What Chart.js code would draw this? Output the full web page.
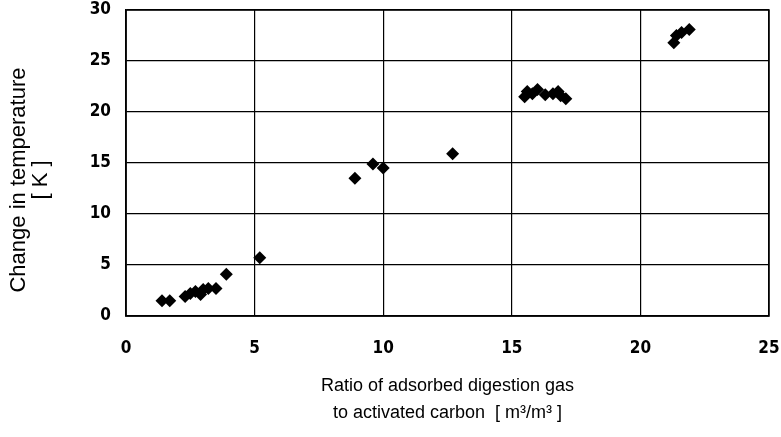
<!DOCTYPE html>
<html>
<head>
<meta charset="utf-8">
<script src="https://cdn.jsdelivr.net/npm/chart.js@4/dist/chart.umd.min.js"></script>
<style>
  html, body { margin: 0; padding: 0; background: #fff; }
  #wrap { width: 781px; height: 437px; }
</style>
</head>
<body>
<div id="wrap"><canvas id="c" width="781" height="437"></canvas></div>
<script>
// Ratio of adsorbed digestion gas to activated carbon [m3/m3]
const ratio = [
  1.4, 1.7, 2.3, 2.5, 2.7, 2.9, 3.0, 3.2, 3.5, 3.9,
  5.2,
  8.9, 9.6, 10.0,
  12.7,
  15.5, 15.6, 15.8, 16.0, 16.3, 16.6, 16.8, 16.9, 17.1,
  21.3, 21.4, 21.6, 21.9
];
// Change in temperature [K]
const deltaT = [
  1.5, 1.5, 1.9, 2.2, 2.4, 2.1, 2.6, 2.7, 2.7, 4.1,
  5.7,
  13.5, 14.9, 14.5,
  15.9,
  21.5, 22.0, 21.8, 22.2, 21.7, 21.8, 22.0, 21.6, 21.3,
  26.8, 27.5, 27.8, 28.1
];
const xTicks = [0, 5, 10, 15, 20, 25];
const yTicks = [0, 5, 10, 15, 20, 25, 30];
const xTitle = ['Ratio of adsorbed digestion gas', 'to activated carbon  [ m\u00b3/m\u00b3 ]'];
const yTitle = ['Change in temperature', '[ K ]'];

const points = ratio.map((x, i) => ({ x: x, y: deltaT[i] }));
const tickFont = { family: "'DejaVu Sans Condensed', 'Liberation Sans Narrow', sans-serif", size: 17, weight: 'bold' };
const titleFont = { family: "'Liberation Sans', sans-serif", size: 18, lineHeight: 1.5 };

new Chart(document.getElementById('c'), {
  type: 'scatter',
  data: {
    datasets: [{
      data: points,
      pointStyle: 'rectRot',
      pointRadius: 6.5,
      backgroundColor: '#000',
      borderColor: '#000',
      borderWidth: 0
    }]
  },
  options: {
    responsive: false,
    animation: false,
    layout: { padding: { top: 0, right: 0, left: 0, bottom: 6 } },
    plugins: { legend: { display: false }, tooltip: { enabled: false } },
    scales: {
      x: {
        type: 'linear', min: 0, max: 25,
        afterBuildTicks: s => { s.ticks = xTicks.map(v => ({ value: v })); },
        grid: { color: '#000', lineWidth: 1.2, drawTicks: false },
        border: { color: '#000', width: 1.5 },
        ticks: { color: '#000', font: tickFont, padding: 22, maxRotation: 0 },
        title: {
          display: true,
          text: xTitle,
          color: '#000', font: titleFont, padding: { top: 14 }
        },
        afterFit: s => { s.height = 437 - 316 - 6; s.paddingLeft = 0; s.paddingRight = 12; }
      },
      y: {
        type: 'linear', min: 0, max: 30,
        afterBuildTicks: s => { s.ticks = yTicks.map(v => ({ value: v })); },
        grid: { color: '#000', lineWidth: 1.2, drawTicks: false },
        border: { color: '#000', width: 1.5 },
        ticks: { color: '#000', font: tickFont, padding: 15 },
        title: { display: false },
        afterFit: s => { s.width = 126; s.paddingTop = 10; s.paddingBottom = 0; }
      }
    }
  },
  plugins: [{
    id: 'frameAndYTitle',
    afterDraw(chart) {
      const { ctx, chartArea: a } = chart;
      ctx.save();
      ctx.strokeStyle = '#000';
      ctx.lineWidth = 1.5;
      ctx.strokeRect(a.left, a.top, a.right - a.left, a.bottom - a.top);
      // rotated two-line y-axis title, sitting a little below the plot's mid-height
      ctx.fillStyle = '#000';
      ctx.font = "22px 'Liberation Sans', sans-serif";
      ctx.textAlign = 'center';
      ctx.textBaseline = 'middle';
      const cy = (a.top + a.bottom) / 2 + 17;
      ctx.translate(19, cy);
      ctx.rotate(-Math.PI / 2);
      ctx.fillText(yTitle[0], 0, 0);
      ctx.fillText(yTitle[1], 0, 22);
      ctx.restore();
    }
  }]
});
</script>
</body>
</html>
